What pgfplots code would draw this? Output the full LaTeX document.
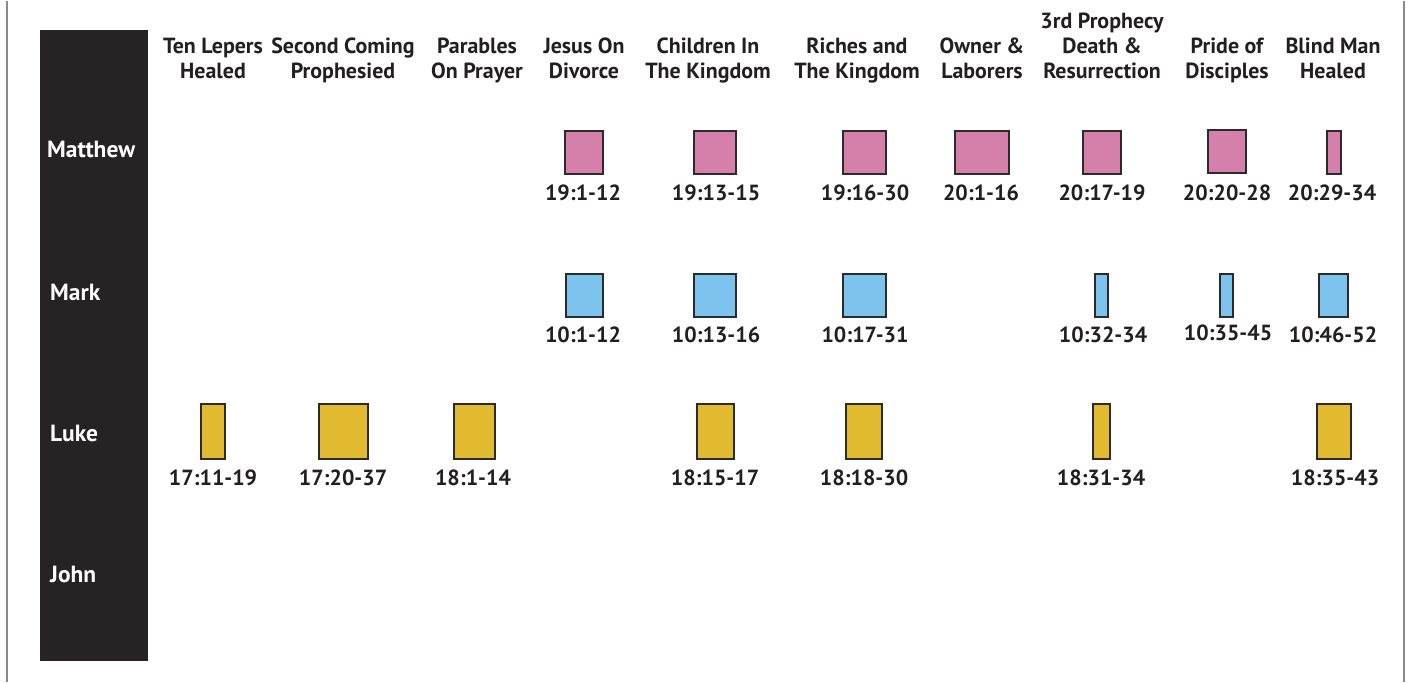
\documentclass[border=0pt]{standalone}
\usepackage{pgfplots}
\pgfplotsset{compat=1.18}
\usepackage{pgfplotstable}
\usepackage{fontspec}
\setmainfont{PT Sans}
\definecolor{txt}{HTML}{231F20}
\definecolor{side}{HTML}{252324}
\definecolor{edge}{HTML}{2B2B2B}
\definecolor{pinkc}{HTML}{D580AB}
\definecolor{bluec}{HTML}{7CC4EE}
\definecolor{yelc}{HTML}{E2BA30}
\definecolor{frame}{HTML}{8A8A8A}
\pgfdeclareplotmark{nomark}{}

% rectangles: centre x, centre y, width, height (pixels)
\pgfplotstableread{
x y w h
583.5 151.5 38 43
715.0 151.5 42 43
864.5 151.5 43 43
981.5 151.5 54 43
1101.5 151.5 38 43
1226.5 150.5 38 43
1334.0 151.5 14 43
}\matthew
\pgfplotstableread{
x y w h
584.0 294.5 37 43
715.0 294.5 42 43
864.5 294.5 43 43
1101.5 294.5 13 43
1226.5 294.5 13 43
1333.5 294.5 29 43
}\mark
\pgfplotstableread{
x y w h
213.0 430.5 24 55
343.5 430.5 49 55
474.5 430.5 41 55
715.5 430.5 37 55
864.0 430.5 36 55
1101.5 430.5 17 55
1334.0 430.5 34 55
}\luke

\pgfplotstableread{
x y lab
583 200 19:1-12
716 200 19:13-15
865 200 19:16-30
981 200 20:1-16
1102 200 20:17-19
1227 200 20:20-28
1332 200 20:29-34
}\matthewlab
\pgfplotstableread{
x y lab
583 341 10:1-12
716 341 10:13-16
865 341 10:17-31
1103 341 10:32-34
1228 339 10:35-45
1333 341 10:46-52
}\marklab
\pgfplotstableread{
x y lab
213 484 17:11-19
343 484 17:20-37
473 484 18:1-14
715 484 18:15-17
864 484 18:18-30
1101 484 18:31-34
1335 484 18:35-43
}\lukelab

\pgfplotsset{
  rects/.style={
    scatter, only marks, mark=nomark, point meta=y,
    visualization depends on={\thisrow{w} \as \rw},
    visualization depends on={\thisrow{h} \as \rh},
    scatter/@pre marker code/.code={%
      \path[fill=#1, draw=edge, line width=2bp]
        (-0.5*\rw bp,-0.5*\rh bp) rectangle (0.5*\rw bp,0.5*\rh bp);},
    scatter/@post marker code/.code={},
  },
  labs/.style={
    draw=none, mark=none, nodes near coords,
    point meta=explicit symbolic,
    nodes near coords style={anchor=base, inner sep=0pt, text=txt,
      font=\fontsize{22}{25}\bfseries},
  },
}

\begin{document}
\begin{tikzpicture}
\begin{axis}[
  width=1411bp, height=681bp, scale only axis,
  xmin=0, xmax=1411, ymin=0, ymax=681, y dir=reverse,
  hide axis, clip=false,
]
\path (axis cs:0,0) rectangle (axis cs:1411,681);
\draw[frame, line width=2bp] (axis cs:7,0) -- (axis cs:7,681);
\draw[frame, line width=2bp] (axis cs:1404,0) -- (axis cs:1404,681);
\fill[side] (axis cs:40,29) rectangle (axis cs:148,660);

% gospel names
\begin{scope}[every node/.style={anchor=base west, inner sep=0pt, text=white,
   font=\fontsize{23.5}{25}\bfseries}]
\node at (axis cs:47,157) {Matthew};
\node at (axis cs:50,299) {Mark};
\node at (axis cs:50,440) {Luke};
\node at (axis cs:50,581) {John};
\end{scope}

% headers
\begin{scope}[every node/.style={anchor=south, inner sep=0pt, text=txt, align=center,
   text depth=0pt, font=\fontsize{22}{25}\bfseries}]
\node at (axis cs:213,78) {Ten Lepers\\Healed};
\node at (axis cs:343,78) {Second Coming\\Prophesied};
\node at (axis cs:477,78) {Parables\\On Prayer};
\node at (axis cs:584,78) {Jesus On\\Divorce};
\node at (axis cs:708,78) {Children In\\The Kingdom};
\node at (axis cs:857,78) {Riches and\\The Kingdom};
\node at (axis cs:982,78) {Owner \&\\Laborers};
\node at (axis cs:1102,78) {3rd Prophecy\\Death \&\\Resurrection};
\node at (axis cs:1227,78) {Pride of\\Disciples};
\node at (axis cs:1333,78) {Blind Man\\Healed};
\end{scope}

\addplot[rects=pinkc] table[x=x,y=y] {\matthew};
\addplot[rects=bluec] table[x=x,y=y] {\mark};
\addplot[rects=yelc] table[x=x,y=y] {\luke};

\addplot[labs] table[x=x,y=y,meta=lab] {\matthewlab};
\addplot[labs] table[x=x,y=y,meta=lab] {\marklab};
\addplot[labs] table[x=x,y=y,meta=lab] {\lukelab};
\end{axis}
\end{tikzpicture}
\end{document}
